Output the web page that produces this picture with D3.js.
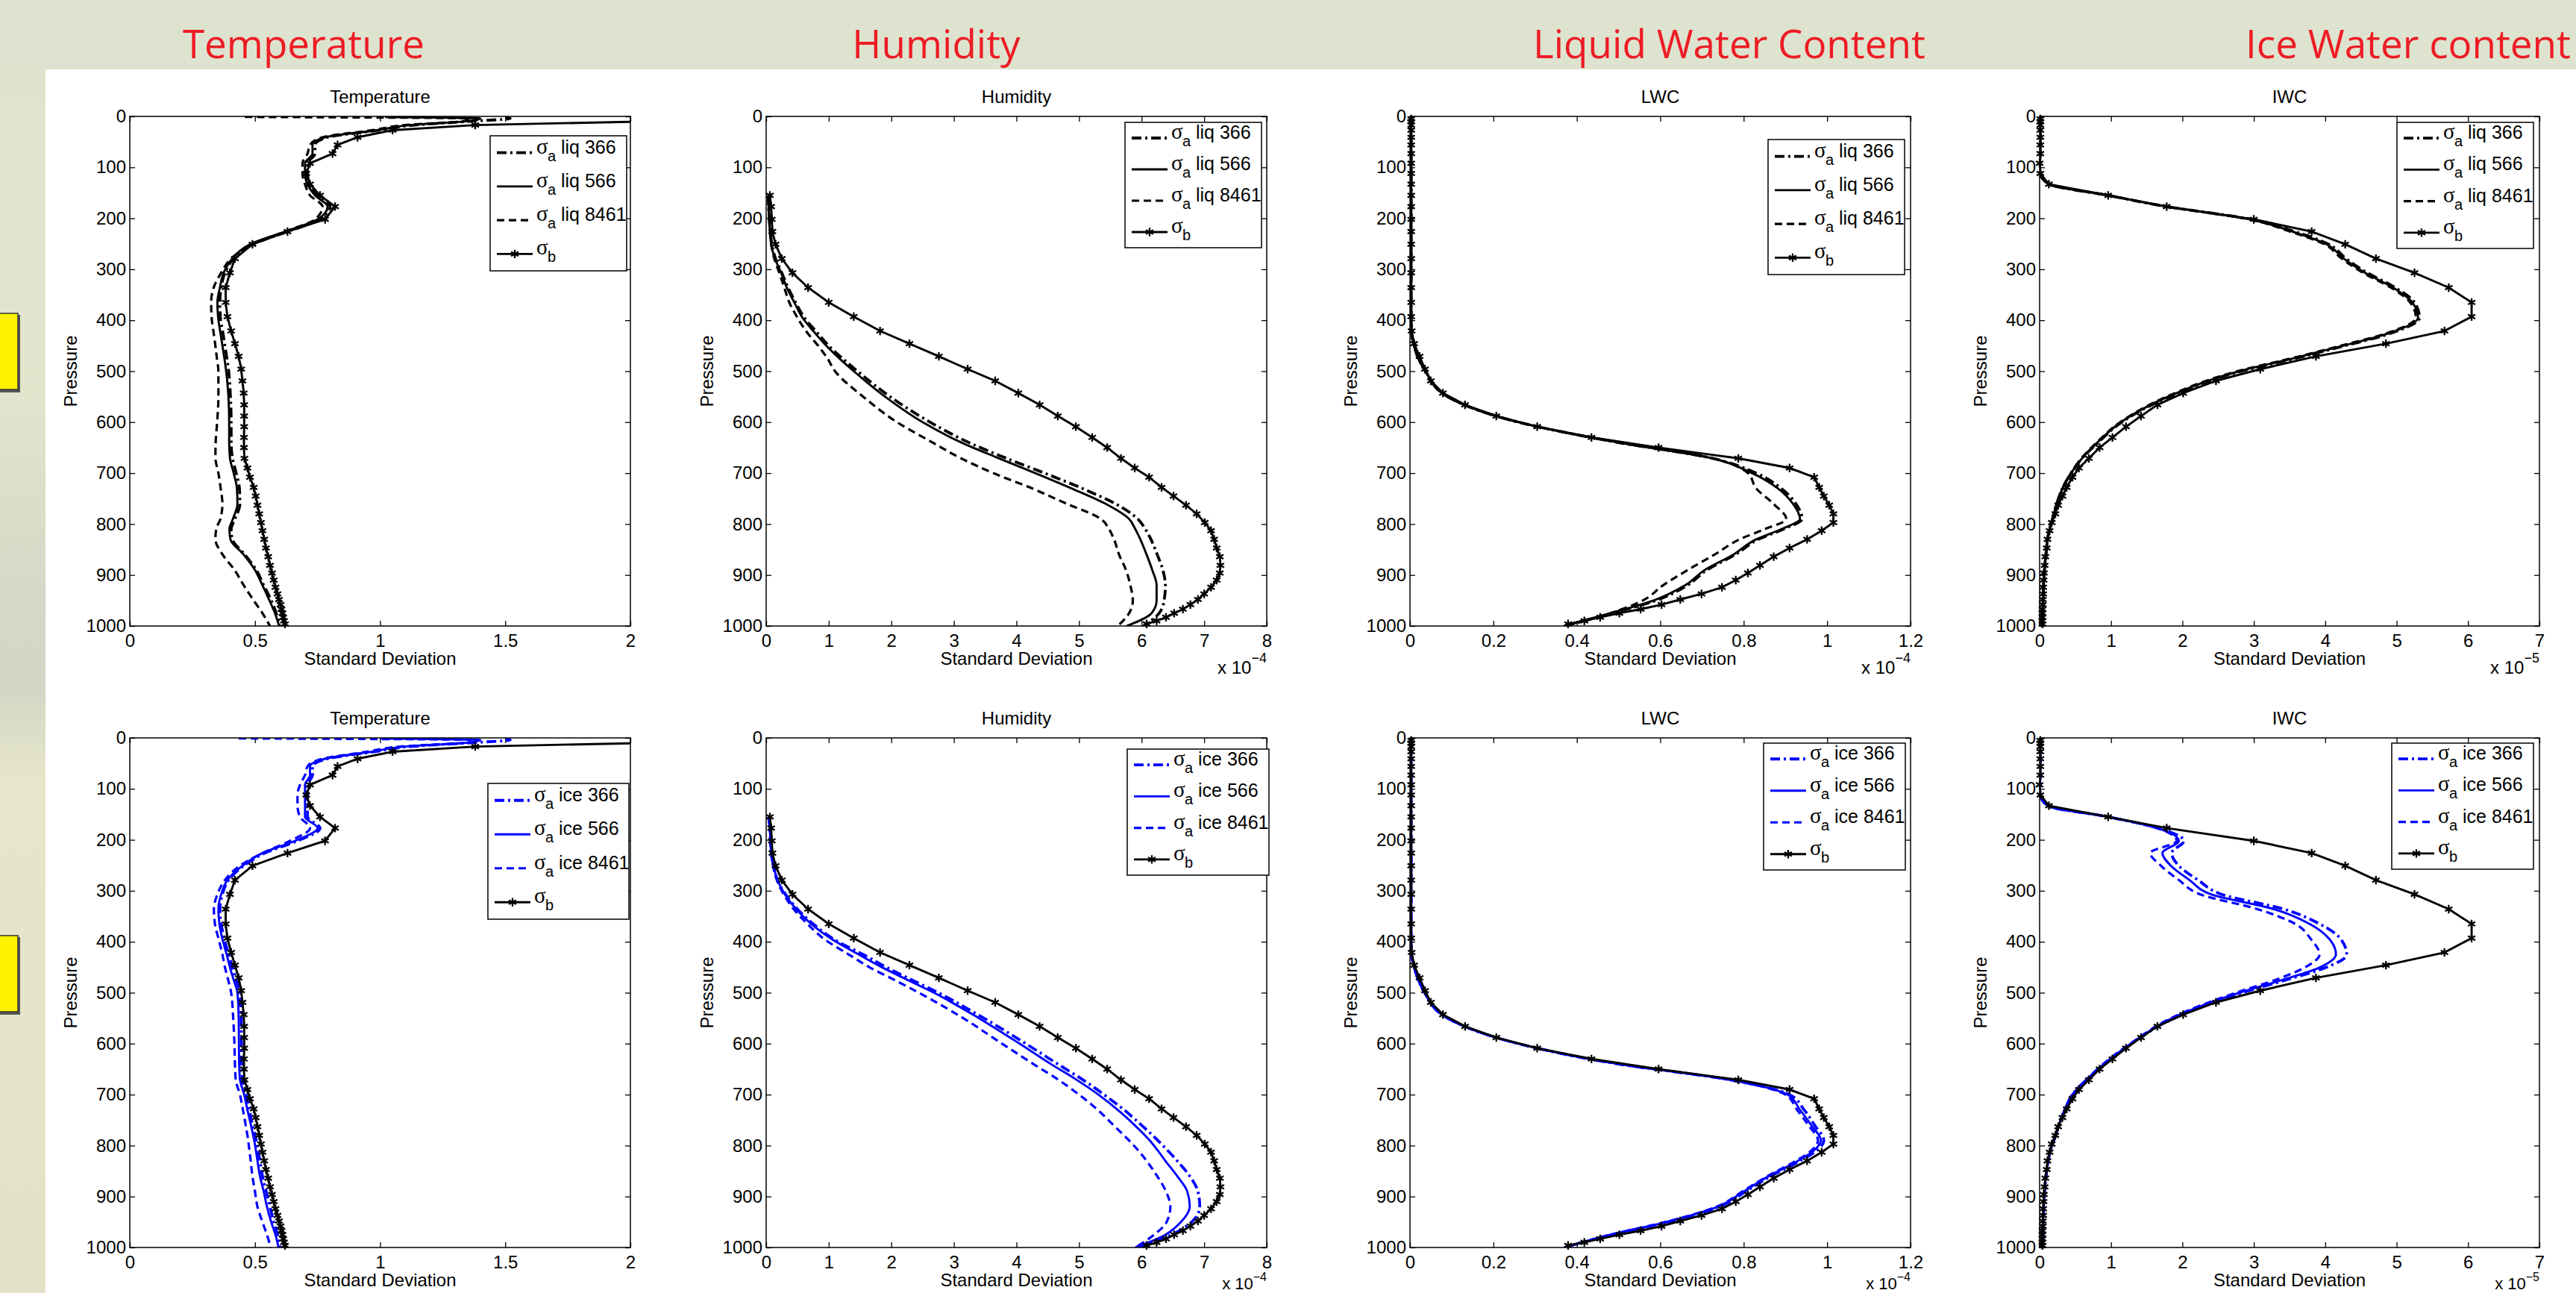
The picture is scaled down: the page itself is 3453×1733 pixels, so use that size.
<!DOCTYPE html>
<html>
<head>
<meta charset="utf-8">
<script src="https://cdn.jsdelivr.net/npm/d3@7"></script>
<style>
  body { margin: 0; overflow: hidden; background: #fff; }
  svg text { font-family: "Liberation Sans", Arial, sans-serif; }
</style>
</head>
<body>
<svg id="chart" width="3453" height="1733"></svg>
<script>
// pressure levels (hPa) of the background error profile (drawn with markers)
var levB = [5, 10, 17, 27, 41, 56, 73, 92, 112, 133, 155, 177, 202, 226, 251, 279, 307, 336, 365, 393,
  421, 446, 471, 496, 519, 543, 566, 588, 609, 630, 650, 671, 690, 708, 728, 745, 763, 780, 797, 813,
  830, 847, 864, 881, 896, 910, 924, 937, 948, 958, 967, 975, 983, 990, 996];
// pressure levels used for the analysis error profiles
var levA = [1, 4, 9, 17, 27, 41, 56, 73, 92, 112, 133, 155, 177, 202, 226, 251, 279, 307, 336, 365,
  395, 425, 450, 475, 500, 550, 600, 640, 670, 700, 730, 760, 790, 810, 830, 860, 890, 920, 950, 975, 1000];

var pressTicks = [0, 100, 200, 300, 400, 500, 600, 700, 800, 900, 1000];
var tempTicks = [0, 0.5, 1, 1.5, 2];
var humTicks = [0, 1, 2, 3, 4, 5, 6, 7, 8];
var lwcTicks = [0, 0.2, 0.4, 0.6, 0.8, 1, 1.2];
var iwcTicks = [0, 1, 2, 3, 4, 5, 6, 7];

var headTitles = ["Temperature", "Humidity", "Liquid Water Content", "Ice Water content"];
var panelTitles = ["Temperature", "Humidity", "LWC", "IWC"];
var liqLabels = ["liq 366", "liq 566", "liq 8461"];
var iceLabels = ["ice 366", "ice 566", "ice 8461"];

// sigma_b, on levB
var tempB = [2.7, 2.05, 1.38, 1.05, 0.91, 0.83, 0.81, 0.72, 0.705, 0.72, 0.76, 0.82, 0.78, 0.63, 0.49, 0.42, 0.40, 0.383, 0.383, 0.39,
  0.405, 0.42, 0.435, 0.445, 0.45, 0.455, 0.457, 0.457, 0.457, 0.456, 0.456, 0.458, 0.47, 0.48, 0.495, 0.503, 0.51, 0.517, 0.524, 0.53,
  0.537, 0.544, 0.553, 0.56, 0.568, 0.575, 0.582, 0.59, 0.596, 0.602, 0.606, 0.61, 0.613, 0.616, 0.62];
var humB = [null, null, null, null, null, null, null, null, null, null, 0.06, 0.08, 0.09, 0.10, 0.15, 0.25, 0.42, 0.67, 1.0, 1.40,
  1.82, 2.29, 2.76, 3.22, 3.66, 4.03, 4.37, 4.66, 4.95, 5.21, 5.45, 5.67, 5.89, 6.12, 6.32, 6.51, 6.71, 6.88, 7.01, 7.11,
  7.16, 7.20, 7.25, 7.26, 7.25, 7.20, 7.11, 7.00, 6.90, 6.78, 6.66, 6.52, 6.39, 6.24, 6.08];
var lwcB = [0.003, 0.003, 0.003, 0.003, 0.003, 0.003, 0.003, 0.003, 0.003, 0.003, 0.003, 0.003, 0.003, 0.003, 0.003, 0.003, 0.003, 0.003, 0.003, 0.003,
  0.004, 0.01, 0.023, 0.036, 0.05, 0.079, 0.132, 0.207, 0.305, 0.435, 0.596, 0.787, 0.91, 0.969, 0.981, 0.992, 1.005, 1.015, 1.015, 0.987,
  0.952, 0.91, 0.872, 0.839, 0.81, 0.781, 0.748, 0.699, 0.648, 0.603, 0.553, 0.502, 0.456, 0.418, 0.379];
var iwcB = [0.01, 0.01, 0.01, 0.01, 0.01, 0.01, 0.01, 0.0, 0.01, 0.13, 0.96, 1.78, 3.0, 3.81, 4.28, 4.71, 5.25, 5.73, 6.05, 6.05,
  5.67, 4.85, 3.87, 3.09, 2.47, 2.01, 1.65, 1.42, 1.21, 1.02, 0.84, 0.69, 0.55, 0.46, 0.38, 0.32, 0.26, 0.22, 0.17, 0.14,
  0.11, 0.10, 0.08, 0.07, 0.06, 0.055, 0.05, 0.05, 0.045, 0.045, 0.04, 0.04, 0.04, 0.04, 0.04];

// sigma_a, on levA -- liquid experiments (top row)
var tempLiq366 = [1.50, 1.52, 1.38, 1.14, 1.00, 0.79, 0.74, 0.74, 0.71, 0.71, 0.72, 0.75, 0.80, 0.76, 0.63, 0.49, 0.415, 0.38, 0.365, 0.36,
  0.362, 0.372, 0.38, 0.388, 0.395, 0.402, 0.405, 0.405, 0.41, 0.425, 0.438, 0.44, 0.42, 0.405, 0.41, 0.46, 0.505, 0.535, 0.565, 0.585, 0.60];
var tempLiq566 = [1.02, 1.40, 1.36, 1.12, 0.99, 0.78, 0.73, 0.73, 0.70, 0.70, 0.71, 0.74, 0.79, 0.75, 0.62, 0.48, 0.41, 0.375, 0.36, 0.35,
  0.353, 0.362, 0.37, 0.378, 0.385, 0.394, 0.397, 0.397, 0.40, 0.415, 0.428, 0.43, 0.412, 0.398, 0.402, 0.455, 0.50, 0.53, 0.558, 0.58, 0.597];
var tempLiq8461 = [0.46, 1.36, 1.34, 1.10, 0.97, 0.77, 0.72, 0.71, 0.69, 0.69, 0.70, 0.72, 0.77, 0.74, 0.62, 0.49, 0.405, 0.365, 0.335, 0.325,
  0.327, 0.335, 0.342, 0.348, 0.354, 0.354, 0.349, 0.343, 0.342, 0.354, 0.363, 0.37, 0.362, 0.345, 0.342, 0.371, 0.418, 0.455, 0.495, 0.53, 0.56];

var humLiq366 = [null, null, null, null, null, null, null, null, null, null, null, 0.03, 0.04, 0.05, 0.07, 0.09, 0.15, 0.25, 0.35, 0.47,
  0.61, 0.82, 1.0, 1.22, 1.46, 1.98, 2.62, 3.24, 3.82, 4.45, 5.05, 5.58, 5.94, 6.06, 6.15, 6.25, 6.34, 6.38, 6.36, 6.28, 6.03];
var humLiq566 = [null, null, null, null, null, null, null, null, null, null, null, 0.03, 0.04, 0.05, 0.06, 0.08, 0.14, 0.24, 0.33, 0.45,
  0.58, 0.78, 0.96, 1.17, 1.40, 1.90, 2.50, 3.12, 3.70, 4.30, 4.88, 5.42, 5.80, 5.90, 5.98, 6.08, 6.17, 6.24, 6.24, 6.16, 5.76];
var humLiq8461 = [null, null, null, null, null, null, null, null, null, null, null, 0.03, 0.04, 0.05, 0.06, 0.08, 0.13, 0.21, 0.29, 0.37,
  0.50, 0.66, 0.83, 0.98, 1.10, 1.55, 2.09, 2.66, 3.10, 3.63, 4.25, 4.80, 5.35, 5.48, 5.56, 5.64, 5.75, 5.82, 5.86, 5.80, 5.62];

var lwcLiq366 = [0.003, 0.003, 0.003, 0.003, 0.003, 0.003, 0.003, 0.003, 0.003, 0.003, 0.003, 0.003, 0.003, 0.003, 0.003, 0.003, 0.003, 0.003, 0.003, 0.003,
  0.003, 0.004, 0.01, 0.02, 0.037, 0.09, 0.26, 0.50, 0.72, 0.83, 0.89, 0.925, 0.94, 0.895, 0.835, 0.78, 0.712, 0.665, 0.59, 0.485, 0.37];
var lwcLiq566 = [0.003, 0.003, 0.003, 0.003, 0.003, 0.003, 0.003, 0.003, 0.003, 0.003, 0.003, 0.003, 0.003, 0.003, 0.003, 0.003, 0.003, 0.003, 0.003, 0.003,
  0.003, 0.004, 0.01, 0.02, 0.037, 0.09, 0.26, 0.50, 0.72, 0.82, 0.882, 0.918, 0.935, 0.89, 0.83, 0.775, 0.707, 0.66, 0.584, 0.48, 0.369];
var lwcLiq8461 = [0.003, 0.003, 0.003, 0.003, 0.003, 0.003, 0.003, 0.003, 0.003, 0.003, 0.003, 0.003, 0.003, 0.003, 0.003, 0.003, 0.003, 0.003, 0.003, 0.003,
  0.003, 0.004, 0.01, 0.02, 0.037, 0.09, 0.26, 0.50, 0.72, 0.81, 0.83, 0.871, 0.902, 0.85, 0.79, 0.73, 0.666, 0.607, 0.558, 0.48, 0.369];

var iwcLiq366 = [0.01, 0.01, 0.01, 0.01, 0.01, 0.01, 0.01, 0.01, 0.0, 0.01, 0.13, 0.96, 1.78, 2.97, 3.57, 4.05, 4.29, 4.59, 4.98, 5.25,
  5.32, 4.93, 4.28, 3.58, 2.83, 1.82, 1.15, 0.82, 0.60, 0.44, 0.32, 0.24, 0.18, 0.14, 0.11, 0.09, 0.07, 0.055, 0.05, 0.045, 0.04];
var iwcLiq566 = [0.01, 0.01, 0.01, 0.01, 0.01, 0.01, 0.01, 0.01, 0.0, 0.01, 0.13, 0.96, 1.78, 2.95, 3.54, 4.02, 4.26, 4.56, 4.95, 5.22,
  5.30, 4.90, 4.25, 3.55, 2.80, 1.80, 1.14, 0.81, 0.60, 0.44, 0.32, 0.24, 0.18, 0.14, 0.11, 0.09, 0.07, 0.055, 0.05, 0.045, 0.04];
var iwcLiq8461 = [0.01, 0.01, 0.01, 0.01, 0.01, 0.01, 0.01, 0.01, 0.0, 0.01, 0.13, 0.96, 1.78, 2.93, 3.51, 3.99, 4.23, 4.53, 4.92, 5.19,
  5.27, 4.87, 4.22, 3.52, 2.77, 1.78, 1.13, 0.80, 0.59, 0.44, 0.32, 0.24, 0.18, 0.14, 0.11, 0.09, 0.07, 0.055, 0.05, 0.045, 0.04];

// sigma_a, on levA -- ice experiments (bottom row)
var tempIce366 = [1.50, 1.52, 1.38, 1.12, 0.98, 0.79, 0.73, 0.73, 0.71, 0.71, 0.71, 0.71, 0.76, 0.67, 0.54, 0.455, 0.395, 0.37, 0.36, 0.365,
  0.378, 0.395, 0.41, 0.425, 0.44, 0.445, 0.446, 0.447, 0.45, 0.465, 0.478, 0.49, 0.505, 0.512, 0.52, 0.53, 0.545, 0.56, 0.575, 0.59, 0.60];
var tempIce566 = [1.00, 1.40, 1.36, 1.10, 0.97, 0.78, 0.72, 0.72, 0.70, 0.70, 0.70, 0.70, 0.75, 0.66, 0.53, 0.45, 0.39, 0.365, 0.354, 0.358,
  0.37, 0.387, 0.40, 0.415, 0.43, 0.435, 0.436, 0.437, 0.44, 0.457, 0.47, 0.484, 0.497, 0.504, 0.51, 0.52, 0.535, 0.548, 0.565, 0.582, 0.594];
var tempIce8461 = [0.435, 1.36, 1.34, 1.08, 0.95, 0.77, 0.71, 0.70, 0.68, 0.67, 0.67, 0.68, 0.72, 0.64, 0.53, 0.44, 0.38, 0.35, 0.336, 0.34,
  0.355, 0.37, 0.38, 0.393, 0.405, 0.413, 0.418, 0.42, 0.423, 0.44, 0.452, 0.463, 0.473, 0.478, 0.483, 0.49, 0.50, 0.51, 0.53, 0.548, 0.563];

var humIce366 = [null, null, null, null, null, null, null, null, null, null, null, 0.04, 0.06, 0.07, 0.08, 0.12, 0.18, 0.31, 0.50, 0.75,
  1.08, 1.55, 1.92, 2.33, 2.75, 3.48, 4.15, 4.66, 5.05, 5.40, 5.72, 6.00, 6.26, 6.42, 6.57, 6.77, 6.90, 6.93, 6.80, 6.48, 5.95];
var humIce566 = [null, null, null, null, null, null, null, null, null, null, null, 0.04, 0.06, 0.07, 0.08, 0.12, 0.18, 0.30, 0.48, 0.72,
  1.05, 1.48, 1.85, 2.26, 2.68, 3.40, 4.05, 4.55, 4.95, 5.31, 5.62, 5.89, 6.13, 6.26, 6.38, 6.57, 6.73, 6.77, 6.63, 6.38, 5.90];
var humIce8461 = [null, null, null, null, null, null, null, null, null, null, null, 0.04, 0.06, 0.07, 0.08, 0.11, 0.17, 0.28, 0.44, 0.66,
  0.93, 1.32, 1.65, 2.05, 2.44, 3.15, 3.77, 4.27, 4.66, 5.00, 5.30, 5.55, 5.80, 5.95, 6.08, 6.25, 6.39, 6.46, 6.40, 6.20, 5.90];

var lwcIce366 = [0.003, 0.003, 0.003, 0.003, 0.003, 0.003, 0.003, 0.003, 0.003, 0.003, 0.003, 0.003, 0.003, 0.003, 0.003, 0.003, 0.003, 0.003, 0.003, 0.003,
  0.003, 0.004, 0.01, 0.02, 0.035, 0.09, 0.26, 0.50, 0.76, 0.91, 0.945, 0.97, 0.992, 0.975, 0.935, 0.865, 0.805, 0.742, 0.618, 0.483, 0.37];
var lwcIce566 = [0.003, 0.003, 0.003, 0.003, 0.003, 0.003, 0.003, 0.003, 0.003, 0.003, 0.003, 0.003, 0.003, 0.003, 0.003, 0.003, 0.003, 0.003, 0.003, 0.003,
  0.003, 0.004, 0.01, 0.02, 0.035, 0.09, 0.26, 0.50, 0.76, 0.905, 0.935, 0.962, 0.985, 0.968, 0.93, 0.86, 0.80, 0.738, 0.615, 0.481, 0.369];
var lwcIce8461 = [0.003, 0.003, 0.003, 0.003, 0.003, 0.003, 0.003, 0.003, 0.003, 0.003, 0.003, 0.003, 0.003, 0.003, 0.003, 0.003, 0.003, 0.003, 0.003, 0.003,
  0.003, 0.004, 0.01, 0.02, 0.035, 0.09, 0.26, 0.50, 0.76, 0.90, 0.928, 0.955, 0.978, 0.962, 0.925, 0.857, 0.797, 0.735, 0.612, 0.48, 0.368];

var iwcIce366 = [0.01, 0.01, 0.01, 0.01, 0.01, 0.01, 0.01, 0.01, 0.0, 0.01, 0.11, 0.96, 1.66, 2.02, 1.85, 1.95, 2.22, 2.55, 3.42, 3.92,
  4.22, 4.30, 4.02, 3.45, 2.84, 1.88, 1.29, 0.91, 0.66, 0.46, 0.35, 0.27, 0.20, 0.15, 0.12, 0.09, 0.07, 0.06, 0.05, 0.045, 0.04];
var iwcIce566 = [0.01, 0.01, 0.01, 0.01, 0.01, 0.01, 0.01, 0.01, 0.0, 0.01, 0.11, 0.96, 1.65, 1.95, 1.72, 1.84, 2.10, 2.40, 3.28, 3.78,
  4.06, 4.15, 3.93, 3.40, 2.80, 1.86, 1.28, 0.90, 0.66, 0.46, 0.35, 0.27, 0.20, 0.15, 0.12, 0.09, 0.07, 0.06, 0.05, 0.045, 0.04];
var iwcIce8461 = [0.01, 0.01, 0.01, 0.01, 0.01, 0.01, 0.01, 0.01, 0.0, 0.01, 0.11, 0.96, 1.64, 1.92, 1.55, 1.70, 1.95, 2.25, 3.05, 3.58,
  3.80, 3.92, 3.72, 3.30, 2.75, 1.84, 1.27, 0.89, 0.66, 0.46, 0.35, 0.27, 0.20, 0.15, 0.12, 0.09, 0.07, 0.06, 0.05, 0.045, 0.04];

var W = 3453, H = 1733;
var svg = d3.select("#chart");
var defs = svg.append("defs");

// ---- slide background ----
var sideGrad = defs.append("linearGradient").attr("id", "sideGrad")
    .attr("x1", 0).attr("y1", 0).attr("x2", 0).attr("y2", 1);
[["0", "#dfe3cf"], ["0.3", "#e3e5cd"], ["0.45", "#d6d9c6"], ["0.53", "#d3d6c4"], ["0.6", "#e6e6cb"], ["1", "#e4e2c6"]]
    .forEach(function(s) { sideGrad.append("stop").attr("offset", s[0]).attr("stop-color", s[1]); });
svg.append("rect").attr("width", W).attr("height", H).attr("fill", "url(#sideGrad)");
svg.append("rect").attr("width", W).attr("height", 93).attr("fill", "#dee3cf");
svg.append("rect").attr("x", 61).attr("y", 93).attr("width", W - 61).attr("height", H - 93).attr("fill", "#fff");

[420, 1254].forEach(function(yy) {
    svg.append("rect").attr("x", -4).attr("y", yy + 2).attr("width", 31).attr("height", 104).attr("fill", "#555");
    svg.append("rect").attr("x", -4).attr("y", yy).attr("width", 28).attr("height", 102)
        .attr("fill", "#fff200").attr("stroke", "#333").attr("stroke-width", 1.5);
});

var headX = [407, 1255, 2318, 3228];
headTitles.forEach(function(t, i) {
    svg.append("text").attr("x", headX[i]).attr("y", 78).attr("text-anchor", "middle")
        .style("font-family", "'Open Sans', 'Noto Sans', sans-serif").style("font-size", "53px")
        .attr("fill", "#ed1c24").text(t);
});

// ---- panel layout ----
var cols = [
    {left: 174, right: 845, xMax: 2, ticks: tempTicks, mult: null, b: tempB,
     liq: [tempLiq366, tempLiq566, tempLiq8461], ice: [tempIce366, tempIce566, tempIce8461],
     leg: [[657, 182, 183, 181], [654, 1050, 189, 182]]},
    {left: 1027, right: 1698, xMax: 8, ticks: humTicks, mult: "\u22124", b: humB,
     liq: [humLiq366, humLiq566, humLiq8461], ice: [humIce366, humIce566, humIce8461],
     leg: [[1508, 164, 183, 168], [1511, 1004, 190, 169]]},
    {left: 1890, right: 2561, xMax: 1.2, ticks: lwcTicks, mult: "\u22124", b: lwcB,
     liq: [lwcLiq366, lwcLiq566, lwcLiq8461], ice: [lwcIce366, lwcIce566, lwcIce8461],
     leg: [[2370, 187, 183, 181], [2364, 996, 190, 170]]},
    {left: 2734, right: 3404, xMax: 7, ticks: iwcTicks, mult: "\u22125", b: iwcB,
     liq: [iwcLiq366, iwcLiq566, iwcLiq8461], ice: [iwcIce366, iwcIce566, iwcIce8461],
     leg: [[3213, 164, 183, 169], [3206, 996, 190, 169]]}
];
var rows = [
    {top: 156, bottom: 839, color: "#000", labels: liqLabels, key: "liq"},
    {top: 989, bottom: 1672, color: "#0000ff", labels: iceLabels, key: "ice"}
];
var styles = [
    {dash: "13,5,3,5", w: 3.8},
    {dash: null, w: 2.9},
    {dash: "10,6", w: 3.2}
];
var marker = d3.symbol().type(d3.symbolAsterisk || d3.symbolCross).size(90);

function styleAxis(g) {
    g.select(".domain").remove();
    g.selectAll(".tick line").attr("stroke", "#000").attr("stroke-width", 1.3);
    g.selectAll(".tick text").attr("fill", "#000").style("font-size", "24px");
    g.attr("font-family", null);
}

function drawPanel(c, r, ci, ri) {
    var x = d3.scaleLinear().domain([0, c.xMax]).range([c.left, c.right]);
    var y = d3.scaleLinear().domain([0, 1000]).range([r.top, r.bottom]);
    var g = svg.append("g");
    var clipId = "clip" + ci + "_" + ri;
    defs.append("clipPath").attr("id", clipId).append("rect")
        .attr("x", c.left).attr("y", r.top).attr("width", c.right - c.left).attr("height", r.bottom - r.top);

    g.append("g").attr("transform", "translate(0," + r.bottom + ")")
        .call(d3.axisBottom(x).tickValues(c.ticks).tickSize(-7).tickSizeOuter(0).tickPadding(11).tickFormat(d3.format("~g")))
        .call(styleAxis);
    g.append("g").attr("transform", "translate(0," + r.top + ")")
        .call(d3.axisTop(x).tickValues(c.ticks).tickSize(-7).tickSizeOuter(0).tickFormat(""))
        .call(styleAxis);
    g.append("g").attr("transform", "translate(" + c.left + ",0)")
        .call(d3.axisLeft(y).tickValues(pressTicks).tickSize(-7).tickSizeOuter(0).tickPadding(5).tickFormat(d3.format("d")))
        .call(styleAxis);
    g.append("g").attr("transform", "translate(" + c.right + ",0)")
        .call(d3.axisRight(y).tickValues(pressTicks).tickSize(-7).tickSizeOuter(0).tickFormat(""))
        .call(styleAxis);

    // sigma_a curves
    var sa = c[r.key];
    var plot = g.append("g").attr("clip-path", "url(#" + clipId + ")");
    sa.forEach(function(vals, k) {
        var line = d3.line()
            .defined(function(d) { return d[0] != null; })
            .x(function(d) { return x(d[0]); })
            .y(function(d) { return y(d[1]); })
            .curve(d3.curveMonotoneY);
        plot.append("path")
            .datum(levA.map(function(p, i) { return [vals[i], p]; }))
            .attr("d", line).attr("fill", "none")
            .attr("stroke", r.color).attr("stroke-width", styles[k].w)
            .attr("stroke-dasharray", styles[k].dash);
    });

    // sigma_b with markers
    var bData = levB.map(function(p, i) { return [c.b[i], p]; });
    var bLine = d3.line()
        .defined(function(d) { return d[0] != null; })
        .x(function(d) { return x(d[0]); })
        .y(function(d) { return y(d[1]); });
    plot.append("path").datum(bData).attr("d", bLine).attr("fill", "none")
        .attr("stroke", "#000").attr("stroke-width", 2.9);
    g.selectAll(".mk").data(bData.filter(function(d) { return d[0] != null && d[0] <= c.xMax; }))
        .enter().append("path")
        .attr("transform", function(d) { return "translate(" + x(d[0]) + "," + y(d[1]) + ")"; })
        .attr("d", marker).attr("fill", "none").attr("stroke", "#000").attr("stroke-width", 2.3);

    // frame
    g.append("rect").attr("x", c.left).attr("y", r.top)
        .attr("width", c.right - c.left).attr("height", r.bottom - r.top)
        .attr("fill", "none").attr("stroke", "#000").attr("stroke-width", 1.5);

    // labels
    g.append("text").attr("x", (c.left + c.right) / 2).attr("y", r.top - 18)
        .attr("text-anchor", "middle").style("font-size", "24px").text(panelTitles[ci]);
    g.append("text").attr("x", (c.left + c.right) / 2).attr("y", r.bottom + 52)
        .attr("text-anchor", "middle").style("font-size", "24px").text("Standard Deviation");
    g.append("text")
        .attr("transform", "translate(" + (c.left - 71) + "," + ((r.top + r.bottom) / 2) + ") rotate(-90)")
        .attr("text-anchor", "middle").style("font-size", "24px").text("Pressure");
    if (c.mult) {
        // bottom row sits on the page edge: squeeze the multiplier in under the tick labels
        var tight = r.bottom + 64 > H - 5;
        var m = g.append("text").attr("x", c.right).attr("y", tight ? H - 5 : r.bottom + 64)
            .attr("text-anchor", "end").style("font-size", tight ? "22px" : "24px");
        m.append("tspan").text("x 10");
        m.append("tspan").attr("dy", tight ? -11 : -15).style("font-size", tight ? "16px" : "18px").text(c.mult);
    }

    drawLegend(g, c.leg[ri], r);
}

function drawLegend(g, box, r) {
    var lg = g.append("g");
    lg.append("rect").attr("x", box[0]).attr("y", box[1]).attr("width", box[2]).attr("height", box[3])
        .attr("fill", "#fff").attr("stroke", "#000").attr("stroke-width", 1.5);
    var entries = r.labels.map(function(l, k) { return {sub: "a", label: l, k: k}; });
    entries.push({sub: "b", label: "", k: 3});
    entries.forEach(function(e, i) {
        var ly = box[1] + box[3] * (0.125 + i * 0.25);
        var x0 = box[0] + 9, x1 = box[0] + 57;
        var ln = lg.append("line").attr("x1", x0).attr("x2", x1).attr("y1", ly).attr("y2", ly);
        if (e.k < 3) {
            ln.attr("stroke", r.color).attr("stroke-width", styles[e.k].w).attr("stroke-dasharray", styles[e.k].dash);
        } else {
            ln.attr("stroke", "#000").attr("stroke-width", 2.9);
            lg.append("path").attr("transform", "translate(" + ((x0 + x1) / 2) + "," + ly + ")")
                .attr("d", marker).attr("fill", "none").attr("stroke", "#000").attr("stroke-width", 2.3);
        }
        var t = lg.append("text").attr("y", ly + 1).style("font-size", "25px");
        t.append("tspan").attr("x", box[0] + 62).style("font-family", "'Liberation Serif', serif")
            .style("font-size", "29px").text("\u03c3");
        t.append("tspan").attr("x", box[0] + 77).attr("dy", 10).style("font-size", "20px").text(e.sub);
        if (e.label) t.append("tspan").attr("x", box[0] + 95).attr("dy", -10).text(e.label);
    });
}

rows.forEach(function(r, ri) {
    cols.forEach(function(c, ci) { drawPanel(c, r, ci, ri); });
});
</script>
</body>
</html>
